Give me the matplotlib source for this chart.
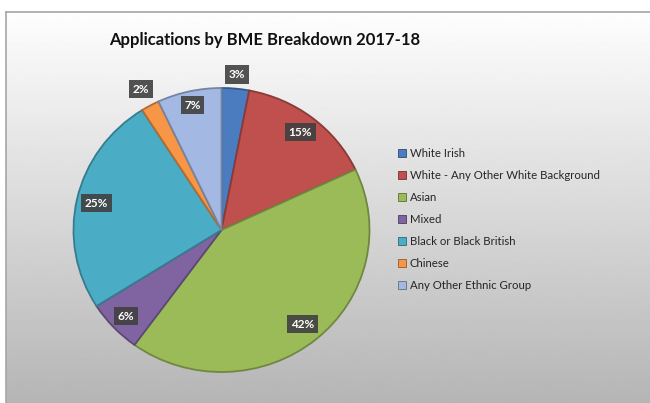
import numpy as np
import matplotlib
matplotlib.use("Agg")
import matplotlib.pyplot as plt
from matplotlib.patches import Rectangle
from matplotlib.colors import to_rgb

plt.rcParams['font.family'] = ['Lato', 'DejaVu Sans']

groups = ['White Irish', 'White - Any Other White Background', 'Asian', 'Mixed',
          'Black or Black British', 'Chinese', 'Any Other Ethnic Group']
shares = [3, 15, 42, 6, 25, 2, 7]
colors = ['#4a7cbf', '#c0504d', '#9bbb59', '#8064a2', '#4bacc6', '#f79646', '#a3b8e2']
# distance of each percentage label from the centre (in radii)
label_dist = [1.10, 0.87, 0.86, 0.885, 0.865, 1.13, 0.90]

W, H = 650, 403
fig = plt.figure(figsize=(W / 100, H / 100), dpi=100)
fig.patch.set_facecolor('white')

# grey gradient chart area
bg = fig.add_axes([6 / W, 0, (W - 6) / W, (H - 12) / H])
grad = np.linspace(0.995, 0.71, 256).reshape(-1, 1)
bg.imshow(grad, cmap='gray', vmin=0, vmax=1, aspect='auto', extent=[0, 1, 0, 1])
bg.set_xlim(0, 1)
bg.set_ylim(0, 1)
bg.set_xticks([])
bg.set_yticks([])
for side in ['bottom', 'right']:
    bg.spines[side].set_visible(False)
for side in ['top', 'left']:
    bg.spines[side].set_color('#a6a6a6')
    bg.spines[side].set_linewidth(1.2)

fig.text(265 / W, 1 - 40 / H, 'Applications by BME Breakdown 2017-18',
         ha='center', va='center', fontsize=12, fontweight='bold', color='#111111')

# pie area: x 73..370, y 88..372 in pixels
ax = fig.add_axes([73.5 / W, 1 - 372 / H, 296 / W, 284 / H])
ax.patch.set_visible(False)

def darker(c, f=0.7):
    r, g, b = to_rgb(c)
    return (r * f, g * f, b * f)

wedges, _ = ax.pie(shares, colors=colors, startangle=90, counterclock=False,
                   wedgeprops=dict(linewidth=1.3))
for w, c in zip(wedges, colors):
    w.set_edgecolor(darker(c, 0.72))
ax.set_aspect('auto')
ax.set_xlim(-1, 1)
ax.set_ylim(-1, 1)

for w, s, d in zip(wedges, shares, label_dist):
    ang = np.deg2rad((w.theta1 + w.theta2) / 2)
    ax.text(d * np.cos(ang), d * np.sin(ang), f'{s}%', ha='center', va='center',
            fontsize=8.5, fontweight='bold', color='white',
            bbox=dict(boxstyle='square,pad=0.3', facecolor='#404040',
                      edgecolor='none', alpha=0.9))

handles = [Rectangle((0, 0), 1, 1, facecolor=c, edgecolor=darker(c, 0.6), linewidth=0.6)
           for c in colors]
fig.legend(handles, groups, loc='upper left', bbox_to_anchor=(388 / W, 1 - 138 / H),
           frameon=False, fontsize=8.2, handlelength=0.65, handleheight=0.65,
           handletextpad=0.35, labelspacing=0.96, labelcolor='#262626')

fig.savefig('out.png', dpi=100)
